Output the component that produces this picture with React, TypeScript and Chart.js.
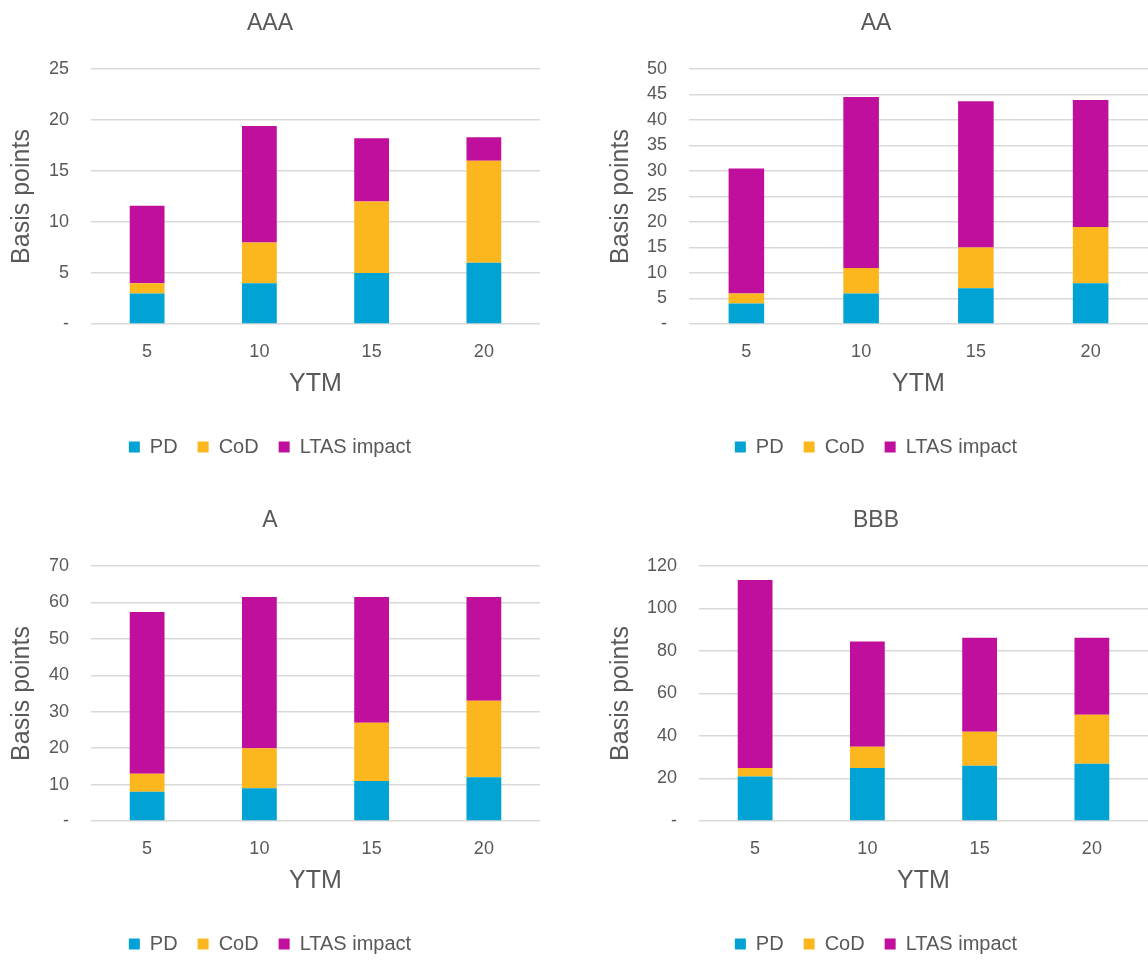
import React, { useEffect, useRef } from "react";
import { Chart, registerables } from "chart.js";

Chart.register(...registerables);

// ---- data ----
const categories = ["5", "10", "15", "20"];
const seriesNames = ["PD", "CoD", "LTAS impact"];

const aaaPD = [3, 4, 5, 6];
const aaaCoD = [1, 4, 7, 10];
const aaaLTAS = [7.6, 11.4, 6.2, 2.3];

const aaPD = [4, 6, 7, 8];
const aaCoD = [2, 5, 8, 11];
const aaLTAS = [24.5, 33.5, 28.7, 24.9];

const aPD = [8, 9, 11, 12];
const aCoD = [5, 11, 16, 21];
const aLTAS = [44.4, 41.5, 34.5, 28.5];

const bbbPD = [21, 25, 26, 27];
const bbbCoD = [4, 10, 16, 23];
const bbbLTAS = [88.4, 49.5, 44.2, 36.2];

const axisMax = { AAA: 25, AA: 50, A: 70, BBB: 120 };
const axisStep = { AAA: 5, AA: 5, A: 10, BBB: 20 };

// ---- styles ----
const COLORS = ["#00A3D4", "#FDB71E", "#C10F9D"];
const TEXT = "#595959";
const GRID = "#D9D9D9";
const FONT = "'Liberation Sans', Arial, Helvetica, sans-serif";

type PanelProps = {
  title: string;
  pd: number[];
  cod: number[];
  ltas: number[];
  max: number;
  step: number;
  left: number;
  top: number;
  width: number;
  yWidth: number;
  yTitlePad: number;
  padRight: number;
};

function Panel(p: PanelProps) {
  const ref = useRef<HTMLCanvasElement | null>(null);
  useEffect(() => {
    if (!ref.current) return;
    const values = [p.pd, p.cod, p.ltas];
    const chart = new Chart(ref.current, {
      type: "bar",
      data: {
        labels: categories,
        datasets: seriesNames.map((name, i) => ({
          label: name,
          data: values[i],
          backgroundColor: COLORS[i],
          borderWidth: 0,
          categoryPercentage: 1,
          barPercentage: 0.31,
        })),
      },
      options: {
        responsive: false,
        animation: false,
        devicePixelRatio: 1,
        layout: { padding: { left: 0, right: p.padRight, top: 0, bottom: 0 } },
        plugins: {
          title: {
            display: true,
            text: p.title,
            color: TEXT,
            font: { family: FONT, size: 23, weight: "normal" },
            padding: { top: 10.2, bottom: 31.2 },
          },
          legend: {
            position: "bottom",
            labels: {
              boxWidth: 11,
              boxHeight: 11,
              padding: 20,
              color: TEXT,
              font: { family: FONT, size: 20 },
            },
          },
          tooltip: { enabled: false },
        },
        scales: {
          x: {
            stacked: true,
            grid: { display: false },
            border: { display: false },
            ticks: { padding: 9, color: TEXT, font: { family: FONT, size: 18 } },
            title: {
              display: true,
              text: "YTM",
              color: TEXT,
              font: { family: FONT, size: 25 },
              padding: { top: 0, bottom: 17.5 },
            },
            afterFit: (s: any) => {
              s.height = 93;
            },
          },
          y: {
            stacked: true,
            min: 0,
            max: p.max,
            grid: { color: GRID, lineWidth: 1.5, drawTicks: false },
            border: { display: false },
            ticks: {
              stepSize: p.step,
              padding: 22,
              color: TEXT,
              font: { family: FONT, size: 18 },
              callback: (v: any) => (Number(v) === 0 ? "-" : String(v)),
            },
            title: {
              display: true,
              text: "Basis points",
              color: TEXT,
              font: { family: FONT, size: 25 },
              padding: { top: p.yTitlePad, bottom: 0 },
            },
            afterFit: (s: any) => {
              s.width = p.yWidth;
            },
          },
        },
      },
    });
    return () => chart.destroy();
  }, []);
  return (
    <canvas
      ref={ref}
      width={p.width}
      height={467}
      style={{ position: "absolute", left: p.left, top: p.top, width: p.width, height: 467 }}
    />
  );
}

export default function App() {
  return (
    <div style={{ position: "relative", width: 1148, height: 961, overflow: "hidden", background: "#fff" }}>
      <style>{"body{margin:0;}"}</style>
      <Panel title="AAA" pd={aaaPD} cod={aaaCoD} ltas={aaaLTAS} max={axisMax.AAA} step={axisStep.AAA}
        left={0} top={0} width={548} yWidth={91} yTitlePad={7} padRight={8} />
      <Panel title="AA" pd={aaPD} cod={aaCoD} ltas={aaLTAS} max={axisMax.AA} step={axisStep.AA}
        left={604} top={0} width={544} yWidth={85} yTitlePad={2} padRight={0} />
      <Panel title="A" pd={aPD} cod={aCoD} ltas={aLTAS} max={axisMax.A} step={axisStep.A}
        left={0} top={497} width={548} yWidth={91} yTitlePad={7} padRight={8} />
      <Panel title="BBB" pd={bbbPD} cod={bbbCoD} ltas={bbbLTAS} max={axisMax.BBB} step={axisStep.BBB}
        left={604} top={497} width={544} yWidth={95} yTitlePad={2} padRight={0} />
    </div>
  );
}
